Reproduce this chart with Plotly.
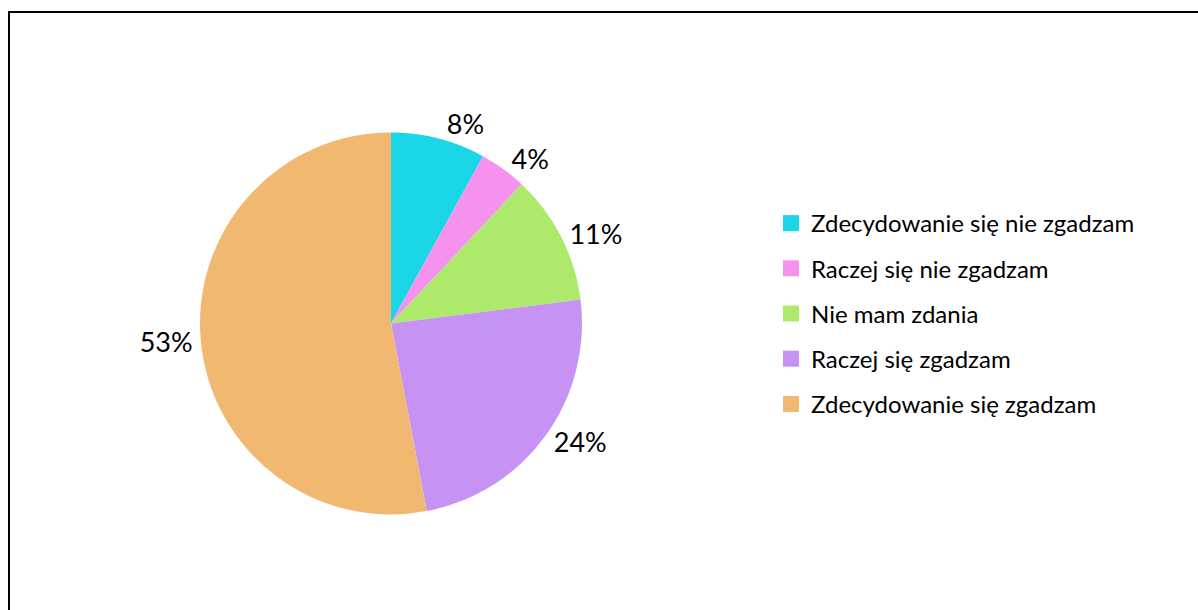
import plotly.graph_objects as go

# Survey answers and their shares (%)
categories = [
    "Zdecydowanie się nie zgadzam",
    "Raczej się nie zgadzam",
    "Nie mam zdania",
    "Raczej się zgadzam",
    "Zdecydowanie się zgadzam",
]
shares = [8, 4, 11, 24, 53]
colors = ["#1AD6E7", "#F592EE", "#ADEA6C", "#C693F5", "#F0B870"]

W, H = 1198, 610
FONT = "Lato, 'Open Sans', sans-serif"

fig = go.Figure()

fig.add_trace(go.Pie(
    labels=categories,
    values=shares,
    sort=False,
    direction="clockwise",
    rotation=0,
    marker=dict(colors=colors, line=dict(width=0)),
    texttemplate="%{value}%",
    textposition="outside",
    textfont=dict(family=FONT, size=27, color="#000000"),
    showlegend=False,
    hoverinfo="label+percent",
    domain=dict(x=[200 / W, 582 / W], y=[1 - 515 / H, 1 - 132 / H]),
))

# Legend entries as square markers, one group each for even spacing
for i, (name, col) in enumerate(zip(categories, colors)):
    fig.add_trace(go.Scatter(
        x=[None], y=[None], mode="markers", name=name,
        marker=dict(symbol="square", size=16, color=col),
        legendgroup=f"g{i}", showlegend=True,
    ))

fig.update_layout(
    width=W, height=H,
    margin=dict(l=0, r=0, t=0, b=0),
    paper_bgcolor="white",
    plot_bgcolor="white",
    xaxis=dict(visible=False),
    yaxis=dict(visible=False),
    font=dict(family=FONT, color="#000000"),
    legend=dict(
        x=771 / W, y=1 - 201 / H, xanchor="left", yanchor="top",
        font=dict(family=FONT, size=24, color="#000000"),
        tracegroupgap=11,
        traceorder="grouped",
        bgcolor="rgba(0,0,0,0)",
    ),
    shapes=[dict(
        type="rect", xref="paper", yref="paper",
        x0=9 / W, x1=1.05, y0=-0.05, y1=1 - 12 / H,
        line=dict(color="black", width=2),
        fillcolor="rgba(0,0,0,0)",
        layer="above",
    )],
)

fig.write_html("out.html")
